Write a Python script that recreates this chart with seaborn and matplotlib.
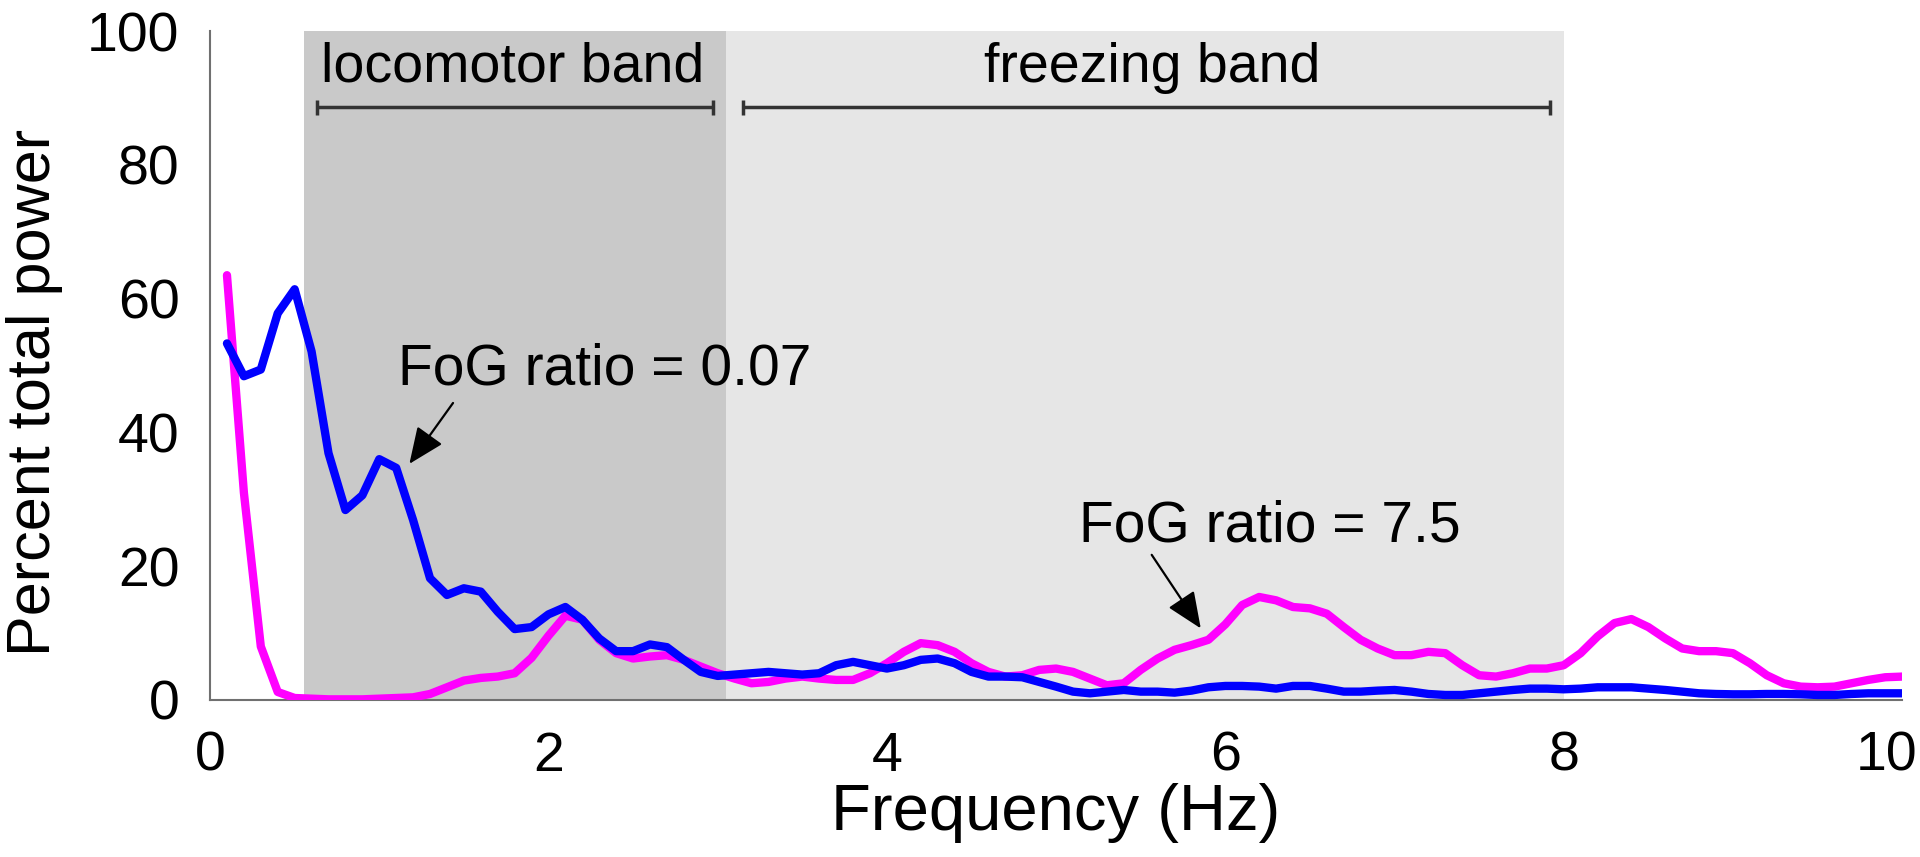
import numpy as np
import pandas as pd
import seaborn as sns
import matplotlib.pyplot as plt
import matplotlib.transforms as mtransforms

# spectra sampled every 0.1 Hz
freq = np.round(np.linspace(0.1, 10.0, 100), 1)

magenta_power = [
    63.5, 31.0, 8.0, 1.2, 0.3, 0.2, 0.1, 0.1, 0.1, 0.2,
    0.3, 0.4, 0.9, 1.9, 2.9, 3.3, 3.5, 4.0, 6.3, 9.6,
    12.6, 12.0, 9.0, 7.0, 6.2, 6.5, 6.7, 6.0, 5.0, 4.0,
    3.2, 2.5, 2.7, 3.2, 3.5, 3.2, 3.0, 3.0, 4.0, 5.5,
    7.2, 8.5, 8.2, 7.2, 5.5, 4.2, 3.5, 3.7, 4.5, 4.7,
    4.2, 3.2, 2.2, 2.5, 4.5, 6.2, 7.5, 8.2, 9.0, 11.3,
    14.2, 15.4, 14.9, 13.9, 13.7, 12.9, 10.9, 9.0, 7.7, 6.7,
    6.7, 7.2, 7.0, 5.2, 3.7, 3.5, 4.0, 4.7, 4.7, 5.2,
    7.0, 9.5, 11.5, 12.1, 10.9, 9.2, 7.7, 7.3, 7.3, 7.0,
    5.5, 3.7, 2.5, 2.0, 1.9, 2.0, 2.5, 3.0, 3.4, 3.5,
]

blue_power = [
    53.3, 48.4, 49.4, 57.8, 61.4, 52.1, 36.9, 28.4, 30.6, 36.0,
    34.7, 26.9, 18.2, 15.7, 16.7, 16.2, 13.2, 10.6, 10.9, 12.8,
    13.9, 12.0, 9.2, 7.3, 7.3, 8.3, 7.9, 6.0, 4.2, 3.6,
    3.8, 4.0, 4.2, 4.0, 3.8, 4.0, 5.2, 5.7, 5.2, 4.7,
    5.2, 6.0, 6.2, 5.5, 4.2, 3.5, 3.5, 3.4, 2.7, 2.0,
    1.25, 1.0, 1.25, 1.5, 1.25, 1.25, 1.1, 1.4, 1.9, 2.1,
    2.1, 2.0, 1.7, 2.1, 2.1, 1.7, 1.25, 1.25, 1.4, 1.5,
    1.25, 0.9, 0.75, 0.75, 1.0, 1.25, 1.5, 1.7, 1.7, 1.6,
    1.7, 1.9, 1.9, 1.9, 1.7, 1.5, 1.25, 1.0, 0.9, 0.85,
    0.85, 0.9, 0.9, 0.85, 0.75, 0.75, 0.9, 1.0, 1.0, 1.0,
]

# band limits (Hz)
loco_band = (0.555, 3.05)
freeze_band = (3.05, 8.0)
loco_bracket = (0.63, 2.97)
freeze_bracket = (3.15, 7.92)

df = pd.DataFrame({
    "freq": np.concatenate([freq, freq]),
    "power": magenta_power + blue_power,
    "trace": ["freezing"] * len(freq) + ["walking"] * len(freq),
})

sns.set_style("white")
plt.rcParams["font.family"] = ["Liberation Sans", "DejaVu Sans"]
plt.rcParams["text.color"] = "black"

fig = plt.figure(figsize=(19.2, 8.57), dpi=100)
ax = fig.add_axes([0.1094, 0.1832, 0.8813, 0.7806])

ax.axvspan(*loco_band, color="#c9c9c9", lw=0, zorder=0)
ax.axvspan(*freeze_band, color="#e6e6e6", lw=0, zorder=0)

sns.lineplot(data=df, x="freq", y="power", hue="trace",
             hue_order=["freezing", "walking"],
             palette={"freezing": "#ff00ff", "walking": "#0000ff"},
             linewidth=6, legend=False, ax=ax, zorder=3)

# band brackets
for (a, b) in [loco_bracket, freeze_bracket]:
    ax.hlines(88.6, a, b, color="#333333", lw=2.5, zorder=4)
    ax.vlines([a, b], 87.5, 89.7, color="#333333", lw=2.5, zorder=4)

ax.text(1.79, 92.4, "locomotor band", fontsize=40, ha="center", va="baseline")
ax.text(5.57, 92.4, "freezing band", fontsize=40, ha="center", va="baseline")

arrow = dict(arrowstyle="-|>,head_length=0.7,head_width=0.3",
             mutation_scale=32, color="black", lw=1.6, shrinkA=0, shrinkB=0)
ax.annotate("", xy=(1.178, 35.3), xytext=(1.436, 44.4), arrowprops=arrow)
ax.annotate("", xy=(5.855, 10.7), xytext=(5.565, 21.7), arrowprops=arrow)
ax.text(1.11, 47.1, "FoG ratio = 0.07", fontsize=41, ha="left", va="baseline")
ax.text(7.39, 23.7, "FoG ratio = 7.5", fontsize=41, ha="right", va="baseline")

ax.set_xlim(0, 10)
ax.set_ylim(0, 100)
ax.set_xticks(range(0, 11))
ax.set_xticklabels([str(i) if i % 2 == 0 else "" for i in range(0, 11)])
ax.set_yticks(range(0, 101, 20))
ax.tick_params(direction="in", length=12, width=1.5, color="#707070",
               labelsize=40, labelcolor="black", pad=22)
for side in ["top", "right"]:
    ax.spines[side].set_visible(False)
for side in ["left", "bottom"]:
    ax.spines[side].set_color("#707070")
    ax.spines[side].set_linewidth(1.5)

# nudge the last x label so it stays inside the picture
last = ax.get_xticklabels()[-1]
last.set_transform(last.get_transform() +
                   mtransforms.ScaledTranslation(-0.16, 0, fig.dpi_scale_trans))

ax.set_xlabel("Frequency (Hz)", fontsize=47, labelpad=0, color="black")
ax.set_ylabel("Percent total power", fontsize=44, color="black")
ax.yaxis.set_label_coords(-0.087, 0.46)

fig.savefig("out.png", dpi=100)
